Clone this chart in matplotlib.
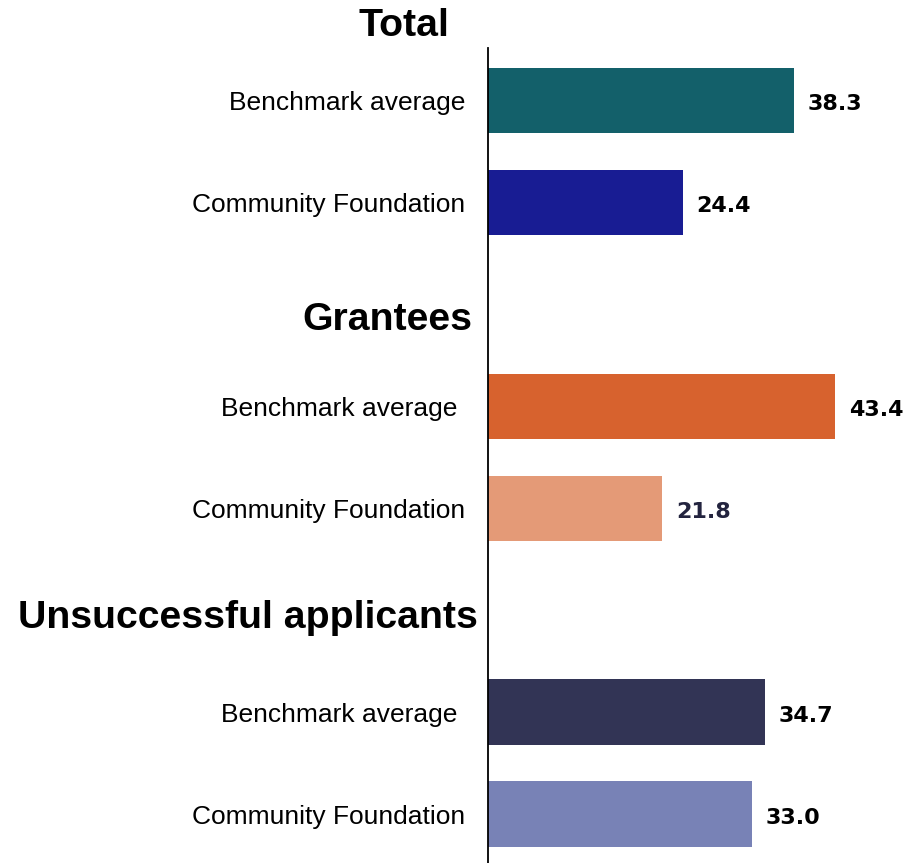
import matplotlib.pyplot as plt

plt.rcParams['font.family'] = ['Liberation Sans', 'DejaVu Sans']

groups = ["Total", "Grantees", "Unsuccessful applicants"]
labels = ["Benchmark average", "Community Foundation",
          "Benchmark average ", "Community Foundation",
          "Benchmark average ", "Community Foundation"]
values = [38.3, 24.4, 43.4, 21.8, 34.7, 33.0]
colors = ["#13606a", "#181c93", "#d7622e", "#e49a77", "#323455", "#7882b6"]
value_colors = ["black", "black", "black", "#23243f", "black", "black"]

# rows: header slot, then two bars per group
bar_rows = [1, 2, 4, 5, 7, 8]
header_rows = [0.27, 3.15, 6.08]

fig = plt.figure(figsize=(9.07, 8.63), dpi=100)
ax = fig.add_axes([0.538, 0.0, 0.462, 0.944])

ax.barh(bar_rows, values, height=0.64, color=colors)
ax.set_xlim(0, 52.4)
ax.set_ylim(8.48, 0.49)

for y, v, c in zip(bar_rows, values, value_colors):
    ax.text(v + 1.7, y + 0.035, '%.1f' % v, ha='left', va='center', fontsize=16,
            fontweight='bold', color=c, family='DejaVu Sans')

ax.set_yticks(bar_rows)
ax.set_yticklabels(labels, fontsize=19)
ax.tick_params(axis='y', length=0, pad=16.5)
ax.set_xticks([])

# group headers
ax.text(-10.5, header_rows[0], groups[0], ha='center', va='center', fontsize=28.3,
        fontweight='bold', clip_on=False)
ax.text(-1.9, header_rows[1], groups[1], ha='right', va='center', fontsize=28.3,
        fontweight='bold', clip_on=False)
ax.text(-1.25, header_rows[2], groups[2], ha='right', va='center', fontsize=28.3,
        fontweight='bold', clip_on=False)

for s in ['top', 'right', 'bottom']:
    ax.spines[s].set_visible(False)
ax.spines['left'].set_linewidth(1.3)

plt.savefig('out.png', dpi=100)
